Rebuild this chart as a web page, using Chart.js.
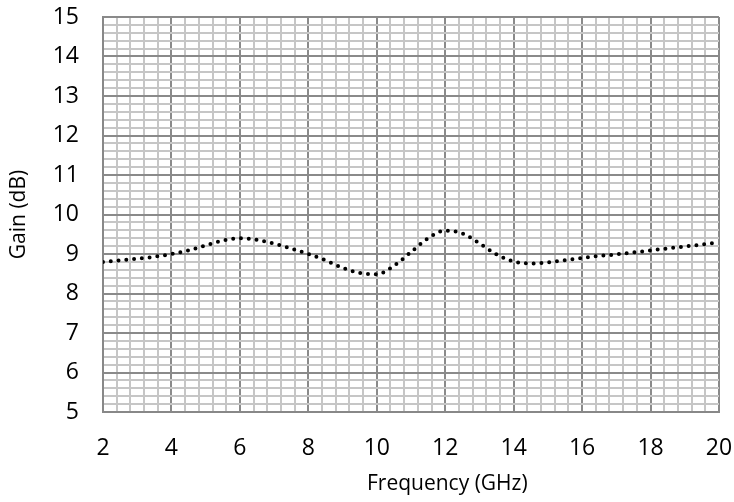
<!DOCTYPE html>
<html>
<head>
<meta charset="utf-8">
<script src="https://cdn.jsdelivr.net/npm/chart.js@4"></script>
<style>
html,body{margin:0;padding:0;background:#fff;}
#wrap{width:734px;height:502px;position:relative;}
</style>
</head>
<body>
<div id="wrap"><canvas id="c" width="734" height="502"></canvas></div>
<script>
const frequency = [2, 2.5, 3, 3.5, 4, 4.5, 5, 5.5, 6, 6.5, 7, 7.5, 8, 8.5, 9, 9.5, 10, 10.5, 11, 11.5, 12, 12.5, 13, 13.5, 14, 14.5, 15, 15.5, 16, 16.5, 17, 17.5, 18, 18.5, 19, 19.5, 20];
const gain = [8.80, 8.84, 8.88, 8.93, 9.00, 9.09, 9.22, 9.34, 9.40, 9.36, 9.26, 9.14, 9.00, 8.84, 8.65, 8.52, 8.49, 8.70, 9.05, 9.40, 9.59, 9.52, 9.27, 8.99, 8.81, 8.76, 8.79, 8.84, 8.90, 8.95, 8.99, 9.04, 9.09, 9.14, 9.19, 9.24, 9.29];
const xMajorTicks = [2, 4, 6, 8, 10, 12, 14, 16, 18, 20];
const yMajorTicks = [5, 6, 7, 8, 9, 10, 11, 12, 13, 14, 15];
const xTitle = 'Frequency (GHz)';
const yTitle = 'Gain (dB)';

const points = frequency.map((f, i) => ({x: f, y: gain[i]}));
const isMajor = (v, list) => list.some(m => Math.abs(m - v) < 1e-6);
const FONT = "'Open Sans', 'Noto Sans', sans-serif";

// x-axis title is drawn offset to the right of the plot centre, as in the reference
const xTitlePlugin = {
  id: 'xTitle',
  afterDraw(chart) {
    const ctx = chart.ctx;
    ctx.save();
    ctx.font = '21px ' + FONT;
    ctx.fillStyle = '#000';
    ctx.textAlign = 'left';
    ctx.textBaseline = 'middle';
    ctx.fillText(xTitle, 367, 484);
    ctx.restore();
  }
};

new Chart(document.getElementById('c'), {
  type: 'line',
  data: {
    datasets: [{
      data: points,
      borderColor: '#000',
      borderWidth: 4,
      borderDash: [0, 7.8],
      borderCapStyle: 'round',
      pointRadius: 0,
      tension: 0.4,
      cubicInterpolationMode: 'monotone',
      fill: false
    }]
  },
  plugins: [xTitlePlugin],
  options: {
    responsive: false,
    animation: false,
    devicePixelRatio: 1,
    layout: {padding: {top: 17, right: 15, bottom: 0, left: 0}},
    plugins: {legend: {display: false}, tooltip: {enabled: false}},
    scales: {
      x: {
        type: 'linear',
        min: 2, max: 20,
        afterFit: s => { s.height = 90; s.paddingLeft = 0; s.paddingRight = 0; },
        border: {display: true, color: '#888', width: 2},
        grid: {
          drawTicks: false,
          color: c => isMajor(c.tick.value, xMajorTicks) ? '#8a8a8a' : '#c6c6c6',
          lineWidth: 2
        },
        ticks: {
          stepSize: 0.4,
          autoSkip: false,
          maxRotation: 0,
          padding: 23,
          color: '#000',
          font: {family: FONT, size: 23},
          callback: v => isMajor(v, xMajorTicks) ? String(Math.round(v)) : ''
        },
        title: {display: false}
      },
      y: {
        type: 'linear',
        min: 5, max: 15,
        afterFit: s => { s.width = 103; s.paddingTop = 0; s.paddingBottom = 0; },
        border: {display: true, color: '#888', width: 2},
        grid: {
          drawTicks: false,
          color: c => isMajor(c.tick.value, yMajorTicks) ? '#8a8a8a' : '#c6c6c6',
          lineWidth: 2
        },
        ticks: {
          stepSize: 0.2,
          autoSkip: false,
          padding: 24,
          color: '#000',
          font: {family: FONT, size: 23},
          callback: v => isMajor(v, yMajorTicks) ? String(Math.round(v)) : ''
        },
        title: {
          display: true,
          text: yTitle,
          color: '#000',
          font: {family: FONT, size: 21},
          padding: {top: 6, bottom: 0}
        }
      }
    }
  }
});
</script>
</body>
</html>
